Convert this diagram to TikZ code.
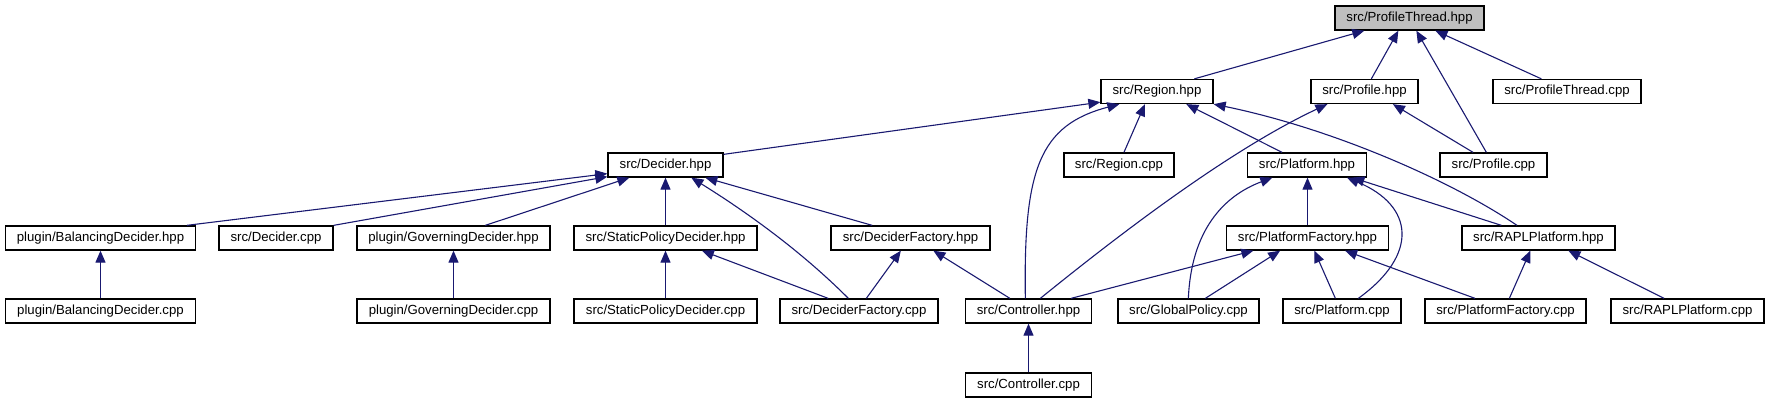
\documentclass[tikz,border=0pt]{standalone}
\usepackage{fontspec}
\setmainfont{Liberation Sans}
\usetikzlibrary{arrows.meta}
\definecolor{edgeblue}{HTML}{191970}
\definecolor{rootgray}{HTML}{BFBFBF}
\begin{document}
\begin{tikzpicture}[x=1pt,y=-1pt,
  file/.style={draw=black, line width=1.3pt, fill=white, minimum height=24pt, inner sep=0pt, font=\fontsize{13.2}{15}\selectfont, text=black},
  e/.style={draw=edgeblue, line width=1.1pt, -{Triangle[length=12pt,width=10pt]}},
]
\useasboundingbox (0,0) rectangle (1769,403);
% row 0
\node[file, fill=rootgray, minimum width=149pt] (pthread) at (1409.5,18) {src/ProfileThread.hpp};
% row 1
\node[file, minimum width=112pt] (region) at (1157,91.5) {src/Region.hpp};
\node[file, minimum width=107pt] (profh) at (1364.5,91.5) {src/Profile.hpp};
\node[file, minimum width=148pt] (ptcpp) at (1567,91.5) {src/ProfileThread.cpp};
% row 2
\node[file, minimum width=115pt] (decider) at (665.5,165) {src/Decider.hpp};
\node[file, minimum width=110pt] (regcpp) at (1119,165) {src/Region.cpp};
\node[file, minimum width=119pt] (plath) at (1307,165) {src/Platform.hpp};
\node[file, minimum width=107pt] (profcpp) at (1493.5,165) {src/Profile.cpp};
% row 3
\node[file, minimum width=190pt] (balh) at (100.5,238) {plugin/BalancingDecider.hpp};
\node[file, minimum width=114pt] (deccpp) at (276,238) {src/Decider.cpp};
\node[file, minimum width=193pt] (govh) at (453.5,238) {plugin/GoverningDecider.hpp};
\node[file, minimum width=183pt] (sph) at (665.5,238) {src/StaticPolicyDecider.hpp};
\node[file, minimum width=159pt] (dfh) at (910.5,238) {src/DeciderFactory.hpp};
\node[file, minimum width=162pt] (pfh) at (1307.5,238) {src/PlatformFactory.hpp};
\node[file, minimum width=153pt] (raplh) at (1538.5,238) {src/RAPLPlatform.hpp};
% row 4
\node[file, minimum width=190pt] (balcpp) at (100.5,311) {plugin/BalancingDecider.cpp};
\node[file, minimum width=193pt] (govcpp) at (453.5,311) {plugin/GoverningDecider.cpp};
\node[file, minimum width=183pt] (spcpp) at (665.5,311) {src/StaticPolicyDecider.cpp};
\node[file, minimum width=158pt] (dfcpp) at (859,311) {src/DeciderFactory.cpp};
\node[file, minimum width=126pt] (ctrlh) at (1028.5,311) {src/Controller.hpp};
\node[file, minimum width=141pt] (gpcpp) at (1188.5,311) {src/GlobalPolicy.cpp};
\node[file, minimum width=118pt] (platcpp) at (1342,311) {src/Platform.cpp};
\node[file, minimum width=161pt] (pfcpp) at (1505.5,311) {src/PlatformFactory.cpp};
\node[file, minimum width=153pt] (raplcpp) at (1687.5,311) {src/RAPLPlatform.cpp};
% row 5
\node[file, minimum width=126pt] (ctrlcpp) at (1028.5,385) {src/Controller.cpp};

% edges
\draw[e] ([xshift=94pt]region.north west) -- ([xshift=30pt]pthread.south west);
\draw[e] ([xshift=61pt]profh.north west) -- ([xshift=64pt]pthread.south west);
\draw[e] ([xshift=47pt]profcpp.north west) -- ([xshift=82pt]pthread.south west);
\draw[e] ([xshift=49pt]ptcpp.north west) -- ([xshift=101pt]pthread.south west);

\draw[e] ([yshift=-2pt]decider.north east) -- ([yshift=2pt]region.south west);
\draw[e] ([xshift=60.5pt]ctrlh.north west) .. controls +(-2,-129) and +(-80,21) .. ([xshift=19pt]region.south west);
\draw[e] ([xshift=60.6pt]regcpp.north west) -- ([xshift=44.6pt]region.south west);
\draw[e] ([xshift=35.2pt]plath.north west) -- ([xshift=86pt]region.south west);
\draw[e] ([xshift=55.6pt]raplh.north west) .. controls +(-68,-46) and +(117,24) .. (region.south east);

\draw[e] ([xshift=75.5pt]ctrlh.north west) .. controls +(79,-64) and +(-98,46) .. ([xshift=17pt]profh.south west);
\draw[e] ([xshift=33.7pt]profcpp.north west) -- ([xshift=82.5pt]profh.south west);

\draw[e] ([xshift=182pt]balh.north west) -- ([yshift=4pt]decider.south west);
\draw[e] (deccpp.north east) -- ([yshift=1pt]decider.south west);
\draw[e] ([xshift=129pt]govh.north west) -- ([xshift=22pt]decider.south west);
\draw[e] (sph.north) -- (sph.north |- decider.south);
\draw[e] ([xshift=69pt]dfcpp.north west) .. controls +(-49,-49) and +(53,33) .. ([xshift=84pt]decider.south west);
\draw[e] ([xshift=41.8pt]dfh.north west) -- ([xshift=98pt]decider.south west);

\draw[e] ([xshift=71pt]gpcpp.north west) .. controls +(3,-69) and +(-48,18) .. ([xshift=25.5pt]plath.south west);
\draw[e] (pfh.north) -- (pfh.north |- plath.south);
\draw[e] ([xshift=76pt]platcpp.north west) .. controls +(61,-44) and +(67,28) .. ([xshift=100.1pt]plath.south west);
\draw[e] ([xshift=40pt]raplh.north west) -- ([xshift=105.5pt]plath.south west);

\draw[e] (balcpp.north) -- (balh.south);
\draw[e] (govcpp.north) -- (govh.south);
\draw[e] (spcpp.north) -- (sph.south);
\draw[e] ([xshift=48.8pt]dfcpp.north west) -- ([xshift=128.5pt]sph.south west);
\draw[e] ([xshift=87pt]dfcpp.north west) -- ([xshift=70.5pt]dfh.south west);
\draw[e] ([xshift=45pt]ctrlh.north west) -- ([xshift=103pt]dfh.south west);

\draw[e] ([xshift=106.3pt]ctrlh.north west) -- ([xshift=27.5pt]pfh.south west);
\draw[e] ([xshift=88pt]gpcpp.north west) -- ([xshift=54.3pt]pfh.south west);
\draw[e] ([xshift=53pt]platcpp.north west) -- ([xshift=88.5pt]pfh.south west);
\draw[e] ([xshift=50.6pt]pfcpp.north west) -- ([xshift=119.2pt]pfh.south west);
\draw[e] ([xshift=85pt]pfcpp.north west) -- ([xshift=69pt]raplh.south west);
\draw[e] ([xshift=53.7pt]raplcpp.north west) -- ([xshift=107pt]raplh.south west);

\draw[e] (ctrlcpp.north) -- (ctrlh.south);
\end{tikzpicture}
\end{document}
